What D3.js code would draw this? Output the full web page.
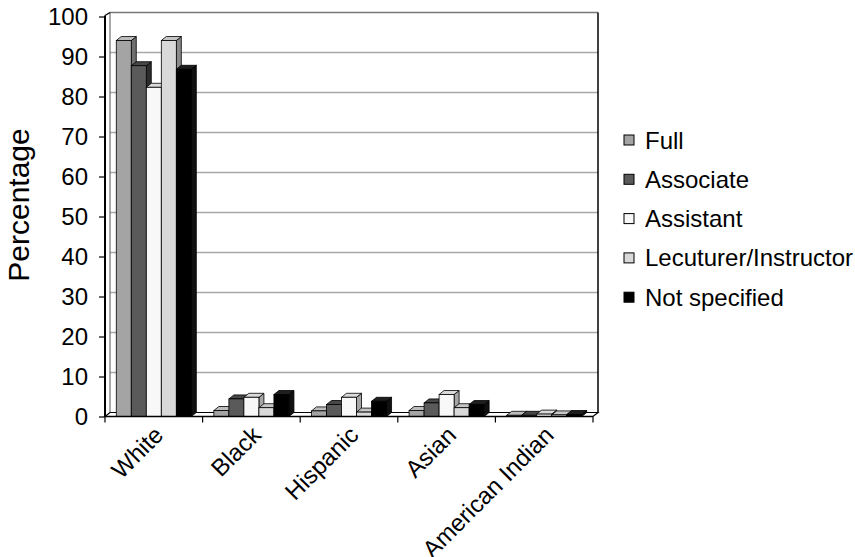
<!DOCTYPE html>
<html>
<head>
<meta charset="utf-8">
<script src="https://cdn.jsdelivr.net/npm/d3@7"></script>
<style>
  html, body { margin: 0; padding: 0; background: #fff; }
  svg { display: block; font-family: "Liberation Sans", Arial, Helvetica, sans-serif; }
</style>
</head>
<body>
<svg id="chart" width="855" height="557"></svg>
<script>
// Faculty rank by race/ethnicity (percent)
const categories = ["White", "Black", "Hispanic", "Asian", "American Indian"];
const seriesNames = ["Full", "Associate", "Assistant", "Lecuturer/Instructor", "Not specified"];
const full         = [94.0, 1.5, 1.4, 1.5, 0.3];
const associate    = [87.7, 4.4, 3.0, 3.4, 0.3];
const assistant    = [82.3, 4.8, 4.8, 5.5, 0.6];
const lecturer     = [94.0, 2.2, 1.1, 2.2, 0.4];
const notSpecified = [86.8, 5.5, 3.8, 3.0, 0.5];
const yTicks = [0, 10, 20, 30, 40, 50, 60, 70, 80, 90, 100];

const seriesValues = [full, associate, assistant, lecturer, notSpecified];

// face shades per series: front, top, side
const shades = [
  { front: "#a4a4a4", top: "#bcbcbc", side: "#6f6f6f" },
  { front: "#5a5a5a", top: "#474747", side: "#2c2c2c" },
  { front: "#f8f8f8", top: "#dadada", side: "#a6a6a6" },
  { front: "#d9d9d9", top: "#c6c6c6", side: "#8a8a8a" },
  { front: "#000000", top: "#1e1e1e", side: "#101010" }
];

const FONT = 24;
const svg = d3.select("#chart");

const plotL = 105, plotR = 593, plotB = 416.5, plotT = 16.5;
const depth = { dx: 5, dy: -4 };

const x = d3.scaleBand().domain(categories).range([plotL, plotR]).paddingInner(0).paddingOuter(0);
const y = d3.scaleLinear().domain([0, 100]).range([plotB, plotT]);
const barW = x.bandwidth() / 6.5;           // 150% gap width
const inner = d3.scaleBand().domain(d3.range(seriesNames.length))
  .range([0.75 * barW, 0.75 * barW + 5 * barW]);

// back wall
const back = svg.append("g");
back.append("rect")
  .attr("x", plotL + depth.dx).attr("y", plotT + depth.dy)
  .attr("width", plotR - plotL).attr("height", plotB - plotT)
  .attr("fill", "#fff");

// gridlines on the back wall
back.selectAll("line.grid")
  .data(yTicks.filter(d => d > 0))
  .join("line")
  .attr("class", "grid")
  .attr("x1", plotL + depth.dx).attr("x2", plotR + depth.dx)
  .attr("y1", d => y(d) + depth.dy).attr("y2", d => y(d) + depth.dy)
  .attr("stroke", d => d === 100 ? "#777" : "#a8a8a8")
  .attr("stroke-width", 1.5);

// back wall edges
back.append("line")
  .attr("x1", plotL + depth.dx).attr("x2", plotL + depth.dx)
  .attr("y1", plotT + depth.dy).attr("y2", plotB + depth.dy)
  .attr("stroke", "#555").attr("stroke-width", 1);
back.append("line")
  .attr("x1", plotR + depth.dx).attr("x2", plotR + depth.dx)
  .attr("y1", plotT + depth.dy).attr("y2", plotB + depth.dy)
  .attr("stroke", "#000").attr("stroke-width", 1.5);

// floor
back.append("path")
  .attr("d", `M${plotL},${plotB} L${plotL + depth.dx},${plotB + depth.dy} L${plotR + depth.dx},${plotB + depth.dy} L${plotR},${plotB} Z`)
  .attr("fill", "#fff").attr("stroke", "#000").attr("stroke-width", 1.2);

// bars
const bars = svg.append("g");
categories.forEach((cat, ci) => {
  seriesValues.forEach((vals, si) => {
    const v = vals[ci];
    const x0 = x(cat) + inner(si);
    const x1 = x0 + barW;
    const y0 = y(0);
    const yv = y(v);
    const s = shades[si];
    const g = bars.append("g");
    // right side
    g.append("path")
      .attr("d", `M${x1},${y0} L${x1 + depth.dx},${y0 + depth.dy} L${x1 + depth.dx},${yv + depth.dy} L${x1},${yv} Z`)
      .attr("fill", s.side).attr("stroke", "#000").attr("stroke-width", 0.8).attr("stroke-linejoin", "round");
    // top
    g.append("path")
      .attr("d", `M${x0},${yv} L${x0 + depth.dx},${yv + depth.dy} L${x1 + depth.dx},${yv + depth.dy} L${x1},${yv} Z`)
      .attr("fill", s.top).attr("stroke", "#000").attr("stroke-width", 0.8).attr("stroke-linejoin", "round");
    // front
    g.append("rect")
      .attr("x", x0).attr("y", yv)
      .attr("width", barW).attr("height", y0 - yv)
      .attr("fill", s.front).attr("stroke", "#000").attr("stroke-width", 0.8);
  });
});

// front value axis
const yAxisG = svg.append("g").attr("transform", `translate(${plotL},0)`)
  .call(d3.axisLeft(y).tickValues(yTicks).tickSize(6).tickPadding(11).tickFormat(d3.format("d")));
yAxisG.select(".domain").attr("stroke", "#000").attr("stroke-width", 2).attr("d", `M0,${plotT - 1}V${plotB}`);
yAxisG.selectAll(".tick line").attr("stroke", "#000").attr("stroke-width", 1.2);
yAxisG.selectAll(".tick text").attr("font-size", FONT).attr("fill", "#000")
  .attr("font-family", "'Liberation Sans', Arial, sans-serif");

// top-left depth connector
svg.append("line")
  .attr("x1", plotL).attr("y1", plotT - 1)
  .attr("x2", plotL + depth.dx).attr("y2", plotT + depth.dy)
  .attr("stroke", "#000").attr("stroke-width", 1.2);

// category axis
const xAxisG = svg.append("g").attr("transform", `translate(0,${plotB})`);
xAxisG.append("line")
  .attr("x1", plotL).attr("x2", plotR).attr("y1", 0).attr("y2", 0)
  .attr("stroke", "#000").attr("stroke-width", 1.5);
xAxisG.selectAll("line.ctick")
  .data(d3.range(categories.length + 1))
  .join("line")
  .attr("class", "ctick")
  .attr("x1", i => plotL + i * x.step()).attr("x2", i => plotL + i * x.step())
  .attr("y1", 0).attr("y2", 6)
  .attr("stroke", "#000").attr("stroke-width", 1.2);
xAxisG.selectAll("text.clabel")
  .data(categories)
  .join("text")
  .attr("class", "clabel")
  .attr("transform", d => `translate(${x(d) + x.bandwidth() / 2 + 11},${20}) rotate(-45)`)
  .attr("text-anchor", "end")
  .attr("font-size", FONT)
  .attr("fill", "#000")
  .text(d => d);

// y axis title
svg.append("text")
  .attr("transform", `translate(29,205) rotate(-90)`)
  .attr("text-anchor", "middle")
  .attr("font-size", 30)
  .attr("fill", "#000")
  .text("Percentage");

// legend
const legend = svg.append("g").attr("transform", "translate(624,140)");
const rows = legend.selectAll("g").data(seriesNames).join("g")
  .attr("transform", (d, i) => `translate(0,${i * 39.3})`);
rows.append("rect")
  .attr("x", 0).attr("y", -5).attr("width", 10).attr("height", 10)
  .attr("fill", (d, i) => shades[i].front)
  .attr("stroke", "#000").attr("stroke-width", 1);
rows.append("text")
  .attr("x", 21).attr("y", 0)
  .attr("dominant-baseline", "central")
  .attr("font-size", FONT)
  .attr("fill", "#000")
  .text(d => d);
</script>
</body>
</html>
